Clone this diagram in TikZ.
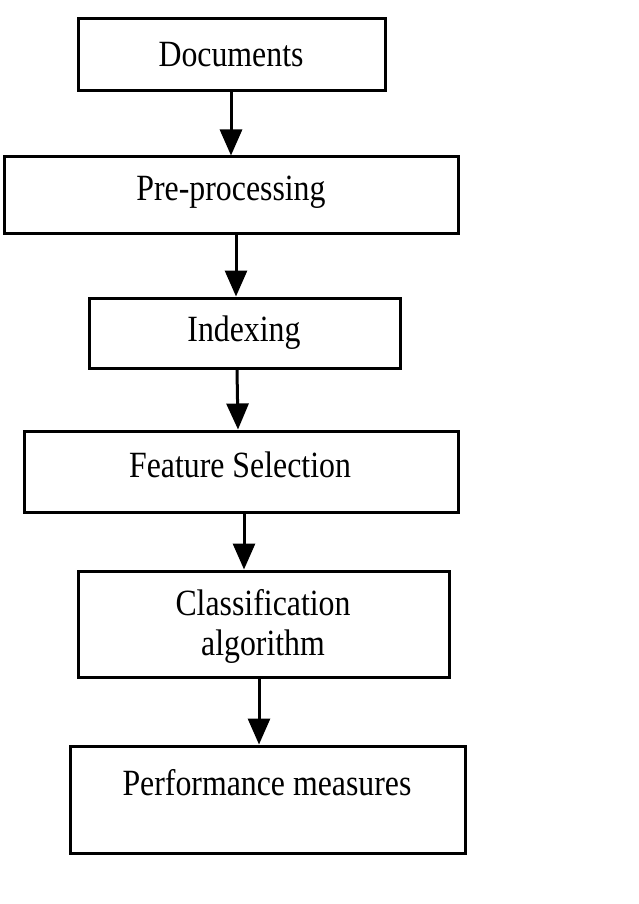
\documentclass[tikz,border=0pt]{standalone}
\usepackage{fontspec}
\setmainfont{Liberation Serif}[FakeStretch=0.86]
\usetikzlibrary{arrows.meta}
\tikzset{
  stepbox/.style={draw,line width=3pt,inner sep=0pt},
  lbl/.style={font=\fontsize{37}{40}\selectfont,inner sep=0pt,align=center},
  arr/.style={line width=3pt,-{Triangle[width=22pt,length=26pt]}}
}
\begin{document}
\begin{tikzpicture}[x=1pt,y=-1pt]
\useasboundingbox (0,0) rectangle (638,904);
% boxes
\node[stepbox,minimum width=307pt,minimum height=72pt] (doc) at (231.5,55) {};
\node[stepbox,minimum width=454pt,minimum height=76pt] (pre) at (231,195) {};
\node[stepbox,minimum width=311pt,minimum height=70pt] (idx) at (244.5,333) {};
\node[stepbox,minimum width=434pt,minimum height=81pt] (fs) at (241,471.5) {};
\node[stepbox,minimum width=371pt,minimum height=106pt] (cls) at (263.5,624) {};
\node[stepbox,minimum width=395pt,minimum height=107pt] (pm) at (267.5,799.5) {};
% labels
\node[lbl] (tdoc) at (231,55) {Documents};
\node[lbl] (tpre) at (231,192) {Pre-processing};
\node[lbl] (tidx) at (244,333) {Indexing};
\node[lbl] (tfs) at (240,465) {Feature Selection};
\node[lbl] (tcls) at (263,626) {Classification\\algorithm};
\node[lbl] (tpm) at (267,783) {Performance measures};
% arrows
\draw[arr] (doc.south -| 231,0) -- (pre.north -| 231,0);
\draw[arr] (pre.south -| 236,0) -- (idx.north -| 236,0);
\draw[arr] (idx.south -| 237,0) -- (fs.north -| 238,0);
\draw[arr] (fs.south -| 244,0) -- (cls.north -| 244,0);
\draw[arr] (cls.south -| 259,0) -- (pm.north -| 259,0);
\end{tikzpicture}
\end{document}
